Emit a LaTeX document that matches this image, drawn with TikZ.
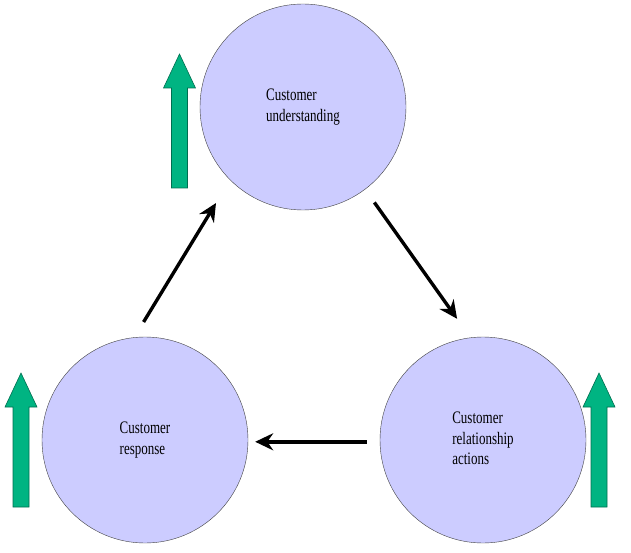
\documentclass[tikz,border=0pt]{standalone}
\usepackage{fontspec}
\setmainfont{Liberation Serif}
\usepackage{tikz}
\usetikzlibrary{positioning,arrows.meta}
\definecolor{lavender}{RGB}{204,204,255}
\definecolor{tealgreen}{RGB}{0,180,130}
\definecolor{darkgreen}{RGB}{0,110,80}
\tikzstyle{stage} = [circle, minimum size=206pt, inner sep=0pt, draw=black!75, fill=lavender, font=\fontsize{13}{15}\selectfont]
\tikzstyle{grnarrow} = [draw=darkgreen, fill=tealgreen, line width=0.6pt]
\tikzstyle{arrow} = [line width=3.4pt,->,>={Stealth[length=18pt,width=17pt]}]
% taller text, as in the reference
\newcommand{\tall}[1]{\scalebox{1}[1.35]{\begin{tabular}{@{}l@{}}#1\end{tabular}}}
% green up arrow: centre x, bottom y
\newcommand{\uparr}[2]{%
\begin{scope}[shift={(#1,#2)}]
\draw[grnarrow] (-8,0) -- (8,0) -- (8,100) -- (16,100) -- (0,134) -- (-16,100) -- (-8,100) -- cycle;
\end{scope}}

\begin{document}
\begin{tikzpicture}[x=1pt,y=1pt]
\useasboundingbox (0,0) rectangle (631,552);

\uparr{179.5}{364}
\uparr{21}{45}
\uparr{599}{45}

\node (und) [stage] at (303,445) {\tall{Customer\\understanding}};
\node (resp) [stage] at (145,112) {\tall{Customer\\response}};
\node (act) [stage] at (483,112) {\tall{Customer\\relationship\\actions}};

\draw [arrow, shorten <=18pt, shorten >=27pt] (resp.96) -- (und.225);
\draw [arrow, shorten <=16pt, shorten >=23pt] (und.307) -- (act.97);
\draw [arrow, shorten <=13pt, shorten >=7pt] (act.181) -- (resp.-1);

\end{tikzpicture}
\end{document}
